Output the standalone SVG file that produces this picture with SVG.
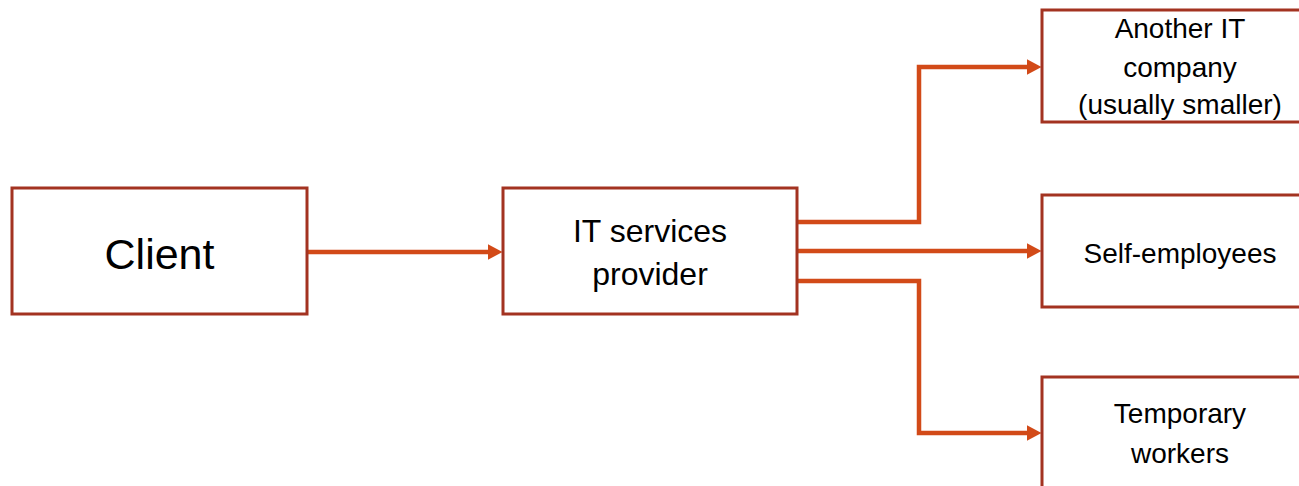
<svg xmlns="http://www.w3.org/2000/svg" width="1299" height="486" viewBox="0 0 1299 486">
<style>
.box{fill:#fff;stroke:#A33321;stroke-width:3}
.lbl{font-family:"Liberation Sans",Arial,sans-serif;fill:#000;text-anchor:middle}
.con{fill:none;stroke:#D24A18;stroke-width:4.5;stroke-linejoin:miter}
</style>
<defs>
<marker id="ah" markerUnits="userSpaceOnUse" markerWidth="16" markerHeight="18" refX="0.5" refY="8" orient="auto">
<path d="M0,0 L15,8 L0,16 Z" fill="#D24A18"/>
</marker>
</defs>
<rect width="1299" height="486" fill="#fff"/>
<g id="connectors">
<path class="con" d="M307,252 L488,252" marker-end="url(#ah)"/>
<path class="con" d="M797,222 L919,222 L919,67 L1027,67" marker-end="url(#ah)"/>
<path class="con" d="M797,251 L1027,251" marker-end="url(#ah)"/>
<path class="con" d="M797,281 L919,281 L919,433 L1027,433" marker-end="url(#ah)"/>
</g>
<g id="client">
<rect class="box" x="12" y="188" width="295" height="126"/>
<text class="lbl" x="159.5" y="269" font-size="43">Client</text>
</g>
<g id="provider">
<rect class="box" x="503" y="188" width="294" height="126"/>
<text class="lbl" x="650" y="242" font-size="32">IT services</text>
<text class="lbl" x="650" y="285" font-size="32">provider</text>
</g>
<g id="another">
<rect class="box" x="1042" y="10" width="276" height="112"/>
<text class="lbl" x="1180" y="38" font-size="28">Another IT</text>
<text class="lbl" x="1180" y="77" font-size="28">company</text>
<text class="lbl" x="1180" y="114" font-size="28">(usually smaller)</text>
</g>
<g id="self">
<rect class="box" x="1042" y="195" width="276" height="112"/>
<text class="lbl" x="1180" y="263" font-size="28">Self-employees</text>
</g>
<g id="temp">
<rect class="box" x="1042" y="377" width="276" height="130"/>
<text class="lbl" x="1180" y="423" font-size="28">Temporary</text>
<text class="lbl" x="1180" y="463" font-size="28">workers</text>
</g>
</svg>
